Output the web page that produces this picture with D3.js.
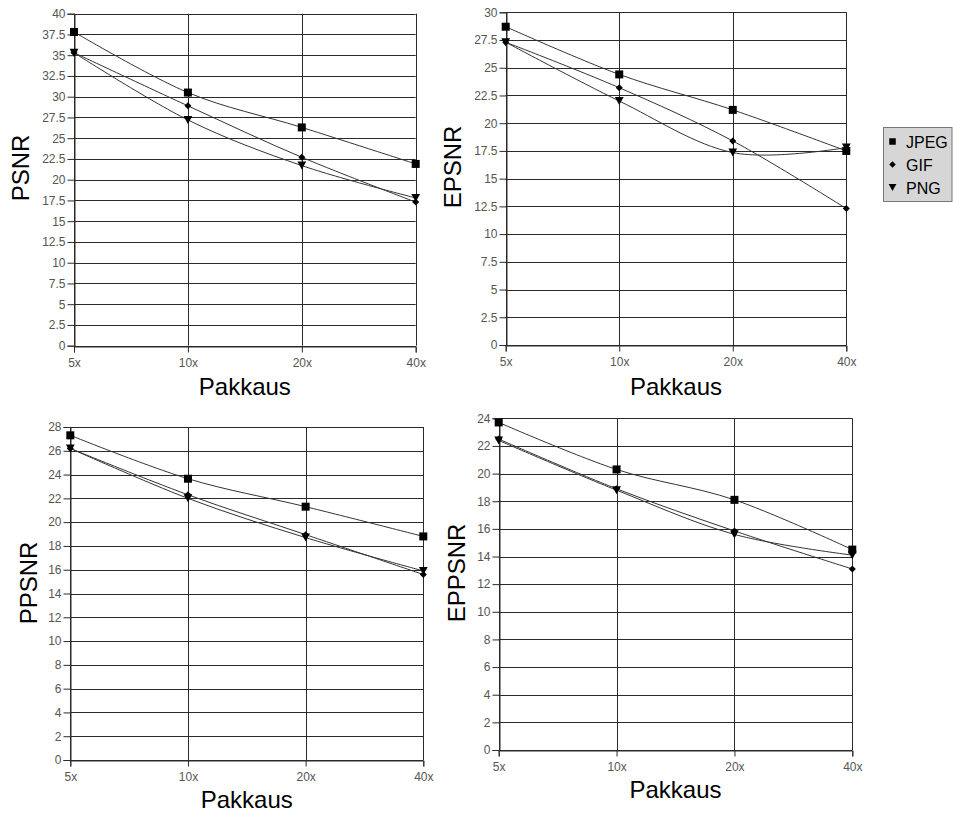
<!DOCTYPE html>
<html>
<head>
<meta charset="utf-8">
<script src="https://cdn.jsdelivr.net/npm/d3@7"></script>
<style>
  html, body { margin: 0; padding: 0; background: #fff; }
  svg { display: block; }
  text { font-family: "Liberation Sans", Arial, sans-serif; }
</style>
</head>
<body>
<svg id="chart" width="953" height="816"></svg>
<script>
// ---------- data ----------
const categories = ["5x", "10x", "20x", "40x"];
const seriesNames = ["JPEG", "GIF", "PNG"];
const xTitle = "Pakkaus";

const psnrJPEG = [37.8, 30.5, 26.3, 21.9];
const psnrGIF  = [35.3, 28.9, 22.7, 17.3];
const psnrPNG  = [35.3, 27.2, 21.7, 17.8];
const psnrTicks = [0, 2.5, 5, 7.5, 10, 12.5, 15, 17.5, 20, 22.5, 25, 27.5, 30, 32.5, 35, 37.5, 40];

const epsnrJPEG = [28.7, 24.4, 21.2, 17.5];
const epsnrGIF  = [27.3, 23.2, 18.4, 12.3];
const epsnrPNG  = [27.3, 22.0, 17.35, 17.8];
const epsnrTicks = [0, 2.5, 5, 7.5, 10, 12.5, 15, 17.5, 20, 22.5, 25, 27.5, 30];

const ppsnrJPEG = [27.3, 23.65, 21.3, 18.8];
const ppsnrGIF  = [26.2, 22.3, 18.95, 15.6];
const ppsnrPNG  = [26.2, 22.0, 18.7, 15.9];
const ppsnrTicks = [0, 2, 4, 6, 8, 10, 12, 14, 16, 18, 20, 22, 24, 26, 28];

const eppsnrJPEG = [23.7, 20.3, 18.1, 14.5];
const eppsnrGIF  = [22.5, 18.9, 15.85, 13.1];
const eppsnrPNG  = [22.4, 18.8, 15.6, 14.1];
const eppsnrTicks = [0, 2, 4, 6, 8, 10, 12, 14, 16, 18, 20, 22, 24];

// ---------- panels (layout) ----------
const panels = [
  { title: "PSNR",   series: [psnrJPEG, psnrGIF, psnrPNG],       ticks: psnrTicks,
    left: 74,  right: 415.7, top: 13.7,  bottom: 345.7, yTitle: [20, 168],  xTitleY: 395 },
  { title: "EPSNR",  series: [epsnrJPEG, epsnrGIF, epsnrPNG],    ticks: epsnrTicks,
    left: 505.7, right: 846.3, top: 12.3, bottom: 345, yTitle: [452, 167], xTitleY: 395 },
  { title: "PPSNR",  series: [ppsnrJPEG, ppsnrGIF, ppsnrPNG],    ticks: ppsnrTicks,
    left: 70.3, right: 423.3, top: 427, bottom: 760, yTitle: [28, 583], xTitleY: 808 },
  { title: "EPPSNR", series: [eppsnrJPEG, eppsnrGIF, eppsnrPNG], ticks: eppsnrTicks,
    left: 498.7, right: 852.3, top: 418.3, bottom: 750, yTitle: [456, 573], xTitleY: 798 }
];

const svg = d3.select("#chart");

// marker shapes
function markerPath(type, s) {
  if (type === 0) { // square
    return `M${-s/2},${-s/2}H${s/2}V${s/2}H${-s/2}Z`;
  } else if (type === 1) { // diamond
    const h = s * 0.5;
    return `M0,${-h}L${h},0L0,${h}L${-h},0Z`;
  } else { // triangle down
    const w = s * 0.55, h = s * 0.5;
    return `M${-w},${-h}L${w},${-h}L0,${h}Z`;
  }
}
const markerSizes = [8, 7, 8];

panels.forEach(p => {
  const g = svg.append("g");
  const x = d3.scalePoint().domain(categories).range([p.left, p.right]);
  const yMax = p.ticks[p.ticks.length - 1];
  const y = d3.scaleLinear().domain([0, yMax]).range([p.bottom, p.top]);

  // horizontal gridlines
  g.append("g").selectAll("line").data(p.ticks).join("line")
    .attr("x1", p.left).attr("x2", p.right)
    .attr("y1", d => Math.round(y(d)) + 0.5).attr("y2", d => Math.round(y(d)) + 0.5)
    .attr("stroke", "#2a2a2a").attr("stroke-width", 1);

  // vertical gridlines
  g.append("g").selectAll("line").data(categories).join("line")
    .attr("x1", d => Math.round(x(d)) + 0.5).attr("x2", d => Math.round(x(d)) + 0.5)
    .attr("y1", p.top).attr("y2", p.bottom)
    .attr("stroke", "#2a2a2a").attr("stroke-width", 1);

  // y axis
  const yAxis = d3.axisLeft(y).tickValues(p.ticks).tickSize(7).tickPadding(2)
    .tickFormat(d => String(d));
  const ya = g.append("g").attr("transform", `translate(${Math.round(p.left) + 0.5},0)`).call(yAxis);
  ya.select(".domain").attr("stroke", "#2a2a2a");
  ya.selectAll(".tick line").attr("stroke", "#2a2a2a");
  ya.selectAll(".tick text").attr("font-size", 12).attr("fill", "#555")
    .attr("font-family", "Liberation Sans, Arial, sans-serif");

  // x axis
  const xAxis = d3.axisBottom(x).tickSize(6).tickPadding(6);
  const xa = g.append("g").attr("transform", `translate(0,${Math.round(p.bottom) + 0.5})`).call(xAxis);
  xa.select(".domain").attr("stroke", "#2a2a2a");
  xa.selectAll(".tick line").attr("stroke", "#2a2a2a");
  xa.selectAll(".tick text").attr("font-size", 12).attr("fill", "#555")
    .attr("font-family", "Liberation Sans, Arial, sans-serif");

  // lines
  const line = d3.line()
    .x((d, i) => x(categories[i]))
    .y(d => y(d))
    .curve(d3.curveCardinal.tension(0));
  p.series.forEach((vals, si) => {
    g.append("path").datum(vals)
      .attr("d", line).attr("fill", "none")
      .attr("stroke", "#333").attr("stroke-width", 1);
  });
  // markers
  p.series.forEach((vals, si) => {
    g.append("g").selectAll("path").data(vals).join("path")
      .attr("d", markerPath(si, markerSizes[si]))
      .attr("transform", (d, i) => `translate(${x(categories[i])},${y(d)})`)
      .attr("fill", "#000");
  });

  // titles
  g.append("text")
    .attr("transform", `translate(${p.yTitle[0]},${p.yTitle[1]}) rotate(-90)`)
    .attr("text-anchor", "middle").attr("dominant-baseline", "central")
    .attr("font-size", 24).attr("fill", "#000").text(p.title);
  g.append("text")
    .attr("x", (p.left + p.right) / 2).attr("y", p.xTitleY)
    .attr("text-anchor", "middle")
    .attr("font-size", 24).attr("fill", "#000").text(xTitle);
});

// legend
const lg = svg.append("g");
lg.append("rect").attr("x", 883.5).attr("y", 127.5).attr("width", 68.5).attr("height", 74)
  .attr("fill", "#d6d6d6").attr("stroke", "#777").attr("stroke-width", 1);
const legendMarkerSizes = [6.5, 6.5, 7];
seriesNames.forEach((name, i) => {
  const yy = 141.5 + i * 23;
  lg.append("path").attr("d", markerPath(i, legendMarkerSizes[i]))
    .attr("transform", `translate(892.5,${yy})`).attr("fill", "#000");
  lg.append("text").attr("x", 906).attr("y", yy + 6)
    .attr("font-size", 16).attr("fill", "#000").text(name);
});
</script>
</body>
</html>
